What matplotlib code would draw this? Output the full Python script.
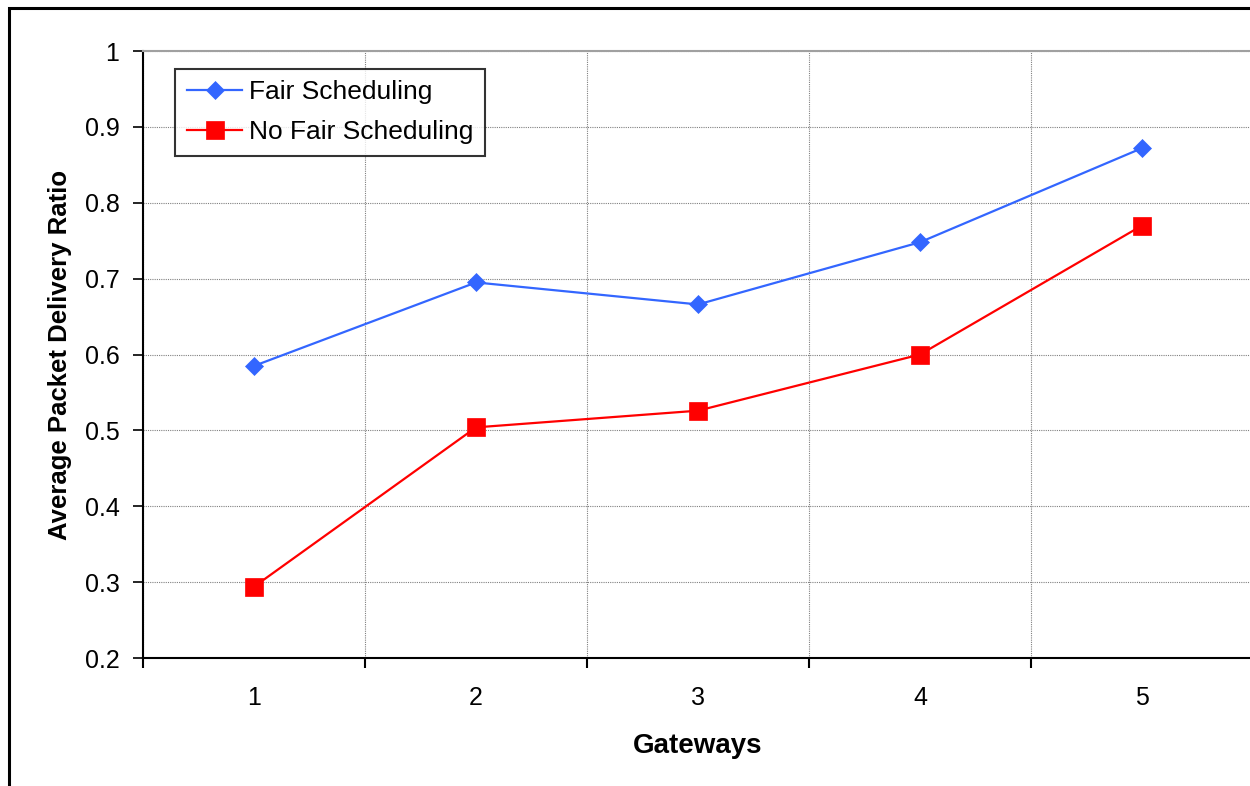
import matplotlib.pyplot as plt
from matplotlib.patches import Rectangle
from matplotlib.ticker import FixedLocator

plt.rcParams['font.family'] = ['Liberation Sans', 'DejaVu Sans']

# Data: delivery ratio per number of gateways
gateways = [1, 2, 3, 4, 5]
fair_scheduling = [0.585, 0.695, 0.666, 0.748, 0.872]
no_fair_scheduling = [0.294, 0.504, 0.526, 0.600, 0.770]
y_ticks = [0.2, 0.3, 0.4, 0.5, 0.6, 0.7, 0.8, 0.9, 1.0]
y_tick_labels = ['0.2', '0.3', '0.4', '0.5', '0.6', '0.7', '0.8', '0.9', '1']


def plot_delivery_ratio():
    fig = plt.figure(figsize=(12.5, 7.86), dpi=100)
    ax = fig.add_axes([0.1144, 0.1628, 0.8880, 0.7723])

    # Outer chart border (only left and top edges fall inside the image)
    fig.patches.append(Rectangle((9 / 1250, -0.2), 1.5, 0.2 + (786 - 8) / 786,
                                 transform=fig.transFigure, fill=False,
                                 edgecolor='black', linewidth=2.2, zorder=0))

    ax.plot(gateways, fair_scheduling, color='#3366FF', linewidth=1.6,
            marker='D', markersize=9, markeredgewidth=0.5,
            label='Fair Scheduling', zorder=3, clip_on=False)
    ax.plot(gateways, no_fair_scheduling, color='#FF0000', linewidth=1.6,
            marker='s', markersize=13, markeredgewidth=0.5,
            label='No Fair Scheduling', zorder=3, clip_on=False)

    ax.set_xlim(0.5, 5.5)
    ax.set_ylim(0.2, 1.0)

    # Category labels in the middle, tick marks and grid on the boundaries
    ax.set_xticks(gateways)
    ax.set_xticklabels([str(g) for g in gateways])
    ax.xaxis.set_minor_locator(FixedLocator([0.5, 1.5, 2.5, 3.5, 4.5, 5.5]))
    ax.tick_params(axis='x', which='major', length=0, pad=20, labelsize=18)
    ax.tick_params(axis='x', which='minor', length=7, width=1.5, direction='out')

    ax.set_yticks(y_ticks)
    ax.set_yticklabels(y_tick_labels)
    ax.tick_params(axis='y', length=7, width=1.2, direction='out', pad=10, labelsize=18)

    ax.grid(True, which='minor', axis='x', color='#808080', linestyle=(0, (1, 1)), linewidth=0.8)
    ax.grid(True, which='major', axis='y', color='#808080', linestyle=(0, (1, 1)), linewidth=0.8)
    ax.set_axisbelow(True)

    for side in ['left', 'bottom']:
        ax.spines[side].set_linewidth(1.5)
        ax.spines[side].set_color('black')
    ax.spines['top'].set_color('#a0a0a0')
    ax.spines['top'].set_linewidth(1.5)
    ax.spines['right'].set_visible(False)

    ax.set_xlabel('Gateways', fontsize=20, fontweight='bold', labelpad=17)
    ax.set_ylabel('Average Packet Delivery Ratio', fontsize=18.5, fontweight='bold', labelpad=9)

    leg = ax.legend(loc='upper left', bbox_to_anchor=(0.029, 0.971), fontsize=19,
                    frameon=True, fancybox=False, edgecolor='black',
                    handlelength=2.1, handletextpad=0.25, borderpad=0.45,
                    labelspacing=0.6, borderaxespad=0)
    leg.get_frame().set_linewidth(1.5)

    plt.savefig('out.png', dpi=100)


if __name__ == "__main__":
    plot_delivery_ratio()
